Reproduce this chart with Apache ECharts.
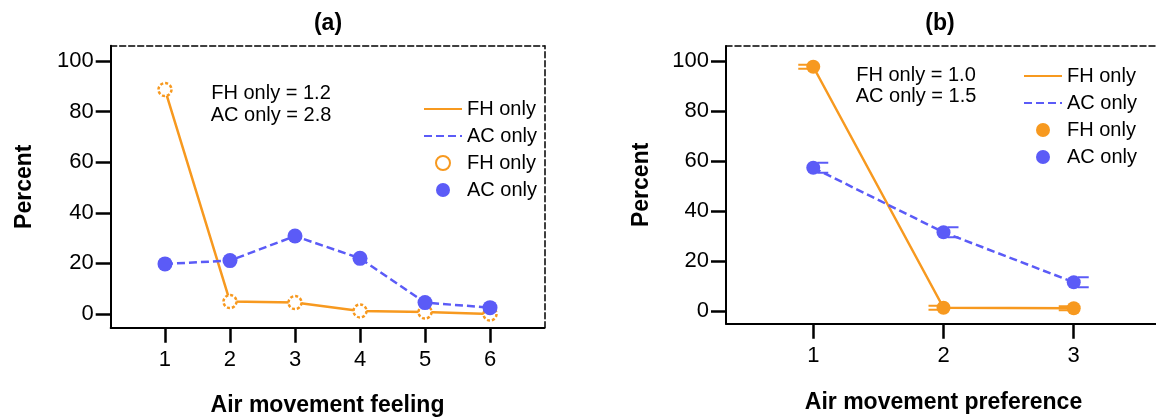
<!DOCTYPE html>
<html>
<head>
<meta charset="utf-8">
<script src="https://cdn.jsdelivr.net/npm/echarts@6/dist/echarts.min.js"></script>
<style>
html,body{margin:0;padding:0;background:#fff;}
#chart{width:1156px;height:417px;}
</style>
</head>
<body>
<div id="chart"></div>
<script>
// ---- data ----
const categoriesA = [1, 2, 3, 4, 5, 6];
const fhOnlyA = [88.7, 4.9, 4.5, 1.2, 0.8, 0.0];
const acOnlyA = [19.8, 21.1, 30.8, 22.0, 4.5, 2.5];
const categoriesB = [1, 2, 3];
const fhOnlyB = [97.7, 1.3, 1.1];
const acOnlyB = [57.3, 31.5, 11.5];
const yTickValues = [0, 20, 40, 60, 80, 100];
const titles = ['(a)', '(b)'];
const xNames = ['Air movement feeling', 'Air movement preference'];
const yName = 'Percent';
const meansA = ['FH only = 1.2', 'AC only = 2.8'];
const meansB = ['FH only = 1.0', 'AC only = 1.5'];
const seriesLabels = ['FH only', 'AC only'];

// ---- style ----
const ORANGE = '#F7991F';
const BLUE = '#5B5BF7';
const FONT = "'Liberation Sans', Arial, Helvetica, sans-serif";

const zip = (xs, ys) => xs.map((x, i) => [x, ys[i]]);

function bottomAxis(grid, min, max, ticks, name, labelMargin, nameGap) {
  return {
    gridIndex: grid, type: 'value', position: 'bottom', min: min, max: max,
    axisLine: { show: true, onZero: false, lineStyle: { color: '#000', width: 2 } },
    axisTick: { show: true, customValues: ticks, length: 15, lineStyle: { color: '#000', width: 2.5 } },
    axisLabel: { show: true, customValues: ticks, margin: labelMargin, fontSize: 22, color: '#000', fontFamily: FONT },
    splitLine: { show: false },
    name: name, nameLocation: 'middle', nameGap: nameGap,
    nameTextStyle: { fontSize: 23, fontWeight: 'bold', color: '#000', fontFamily: FONT }
  };
}
function topAxis(grid, min, max) {
  return {
    gridIndex: grid, type: 'value', position: 'top', min: min, max: max,
    axisLine: { show: true, onZero: false, lineStyle: { color: '#000', width: 1.5, type: [6, 3] } },
    axisTick: { show: false }, axisLabel: { show: false }, splitLine: { show: false }
  };
}
function leftAxis(grid, min, max, nameGap) {
  return {
    gridIndex: grid, type: 'value', position: 'left', min: min, max: max,
    axisLine: { show: true, onZero: false, lineStyle: { color: '#000', width: 2 } },
    axisTick: { show: true, customValues: yTickValues, length: 15, lineStyle: { color: '#000', width: 2.5 } },
    axisLabel: { show: true, customValues: yTickValues, margin: 17, fontSize: 22, color: '#000', fontFamily: FONT },
    splitLine: { show: false },
    name: yName, nameLocation: 'middle', nameGap: nameGap,
    nameTextStyle: { fontSize: 23, fontWeight: 'bold', color: '#000', fontFamily: FONT }
  };
}
function rightAxis(grid, min, max) {
  return {
    gridIndex: grid, type: 'value', position: 'right', min: min, max: max,
    axisLine: { show: true, onZero: false, lineStyle: { color: '#000', width: 1.5, type: [6, 3] } },
    axisTick: { show: false }, axisLabel: { show: false }, splitLine: { show: false }
  };
}

function lineSeries(name, xi, yi, data, color, dashed) {
  return {
    name: name, type: 'line', xAxisIndex: xi, yAxisIndex: yi, data: data,
    symbol: 'none', z: 2,
    lineStyle: { color: color, width: 2.5, type: dashed ? [8, 4] : 'solid' },
    itemStyle: { color: color }
  };
}
function pointSeries(name, xi, yi, data, color, hollow, size) {
  return {
    name: name, type: 'scatter', xAxisIndex: xi, yAxisIndex: yi, data: data,
    symbol: 'circle', symbolSize: size, z: 4,
    itemStyle: hollow
      ? { color: '#fff', borderColor: color, borderWidth: 2.5, borderType: [3, 2], opacity: 1 }
      : { color: color, opacity: 1 }
  };
}
// small bracket-like error caps (panel b)
function capSeries(xi, yi, data, color, side) {
  return {
    type: 'custom', xAxisIndex: xi, yAxisIndex: yi, data: data, z: 3, silent: true,
    renderItem: function (params, api) {
      const p = api.coord([api.value(0), api.value(1)]);
      const s = side;
      const x0 = p[0] + s * 4, x1 = p[0] + s * 15;
      const h = side > 0 ? 5 : 2;
      return {
        type: 'group',
        children: [
          { type: 'line', shape: { x1: x0, y1: p[1] - h, x2: x1, y2: p[1] - h }, style: { stroke: color, lineWidth: 2 } },
          { type: 'line', shape: { x1: x0, y1: p[1] + h, x2: x1, y2: p[1] + h }, style: { stroke: color, lineWidth: 2 } },
          { type: 'line', shape: { x1: x0, y1: p[1] - h, x2: x0, y2: p[1] + h }, style: { stroke: color, lineWidth: 2 } }
        ]
      };
    }
  };
}

const legendFormatter = n => n.split('|')[0];
function legendFor(names, left, top) {
  return {
    data: names.map((n, i) => i < 2
      ? { name: n, itemStyle: { color: 'rgba(0,0,0,0)', borderWidth: 0, opacity: 0 } }
      : { name: n }),
    orient: 'vertical', left: left, top: top, padding: 0,
    itemWidth: 38, itemHeight: 14, itemGap: 7, selectedMode: false,
    textStyle: { fontSize: 20, color: '#000', fontFamily: FONT },
    formatter: legendFormatter
  };
}
function annotation(lines, cx, cy0, dy) {
  return lines.map((t, i) => ({
    type: 'text', x: cx, y: cy0 + i * dy, silent: true,
    style: { text: t, textAlign: 'center', textVerticalAlign: 'middle', fontSize: 20, fontFamily: FONT, fill: '#000' }
  }));
}

const xa = [0.165, 6.835], ya = [-5.42, 106.05];
const xb = [0.33, 3.67], yb = [-5.08, 106];

const namesA = [seriesLabels[0] + '|a', seriesLabels[1] + '|a', seriesLabels[0] + '|a|pt', seriesLabels[1] + '|a|pt'];
const namesB = [seriesLabels[0] + '|b', seriesLabels[1] + '|b', seriesLabels[0] + '|b|pt', seriesLabels[1] + '|b|pt'];

const option = {
  backgroundColor: '#fff',
  animation: false,
  title: [
    { text: titles[0], left: 328, top: 12, textAlign: 'center', padding: 0,
      textStyle: { fontSize: 23, fontWeight: 'bold', color: '#000', fontFamily: FONT } },
    { text: titles[1], left: 940, top: 12, textAlign: 'center', padding: 0,
      textStyle: { fontSize: 23, fontWeight: 'bold', color: '#000', fontFamily: FONT } }
  ],
  grid: [
    { left: 110.7, top: 45.7, width: 433.6, height: 282, containLabel: false, outerBoundsMode: 'none' },
    { left: 726, top: 46, width: 435, height: 277.7, containLabel: false, outerBoundsMode: 'none' }
  ],
  xAxis: [
    bottomAxis(0, xa[0], xa[1], categoriesA, xNames[0], 21, 66),
    topAxis(0, xa[0], xa[1]),
    bottomAxis(1, xb[0], xb[1], categoriesB, xNames[1], 21, 67),
    topAxis(1, xb[0], xb[1])
  ],
  yAxis: [
    leftAxis(0, ya[0], ya[1], 75),
    rightAxis(0, ya[0], ya[1]),
    leftAxis(1, yb[0], yb[1], 73),
    rightAxis(1, yb[0], yb[1])
  ],
  legend: [
    legendFor(namesA, 423, 99),
    legendFor(namesB, 1023, 66)
  ],
  graphic: annotation(meansA, 271, 93, 22).concat(annotation(meansB, 916, 75, 21.5)),
  series: [
    lineSeries(namesA[0], 0, 0, zip(categoriesA, fhOnlyA), ORANGE, false),
    lineSeries(namesA[1], 0, 0, zip(categoriesA, acOnlyA), BLUE, true),
    pointSeries(namesA[2], 0, 0, zip(categoriesA, fhOnlyA), ORANGE, true, 13),
    pointSeries(namesA[3], 0, 0, zip(categoriesA, acOnlyA), BLUE, false, 15),
    lineSeries(namesB[0], 2, 2, zip(categoriesB, fhOnlyB), ORANGE, false),
    lineSeries(namesB[1], 2, 2, zip(categoriesB, acOnlyB), BLUE, true),
    capSeries(2, 2, zip(categoriesB, fhOnlyB), ORANGE, -1),
    capSeries(2, 2, zip(categoriesB, acOnlyB), BLUE, 1),
    pointSeries(namesB[2], 2, 2, zip(categoriesB, fhOnlyB), ORANGE, false, 14),
    pointSeries(namesB[3], 2, 2, zip(categoriesB, acOnlyB), BLUE, false, 14)
  ]
};

const chart = echarts.init(document.getElementById('chart'), null, { renderer: 'canvas' });
chart.setOption(option);
</script>
</body>
</html>
